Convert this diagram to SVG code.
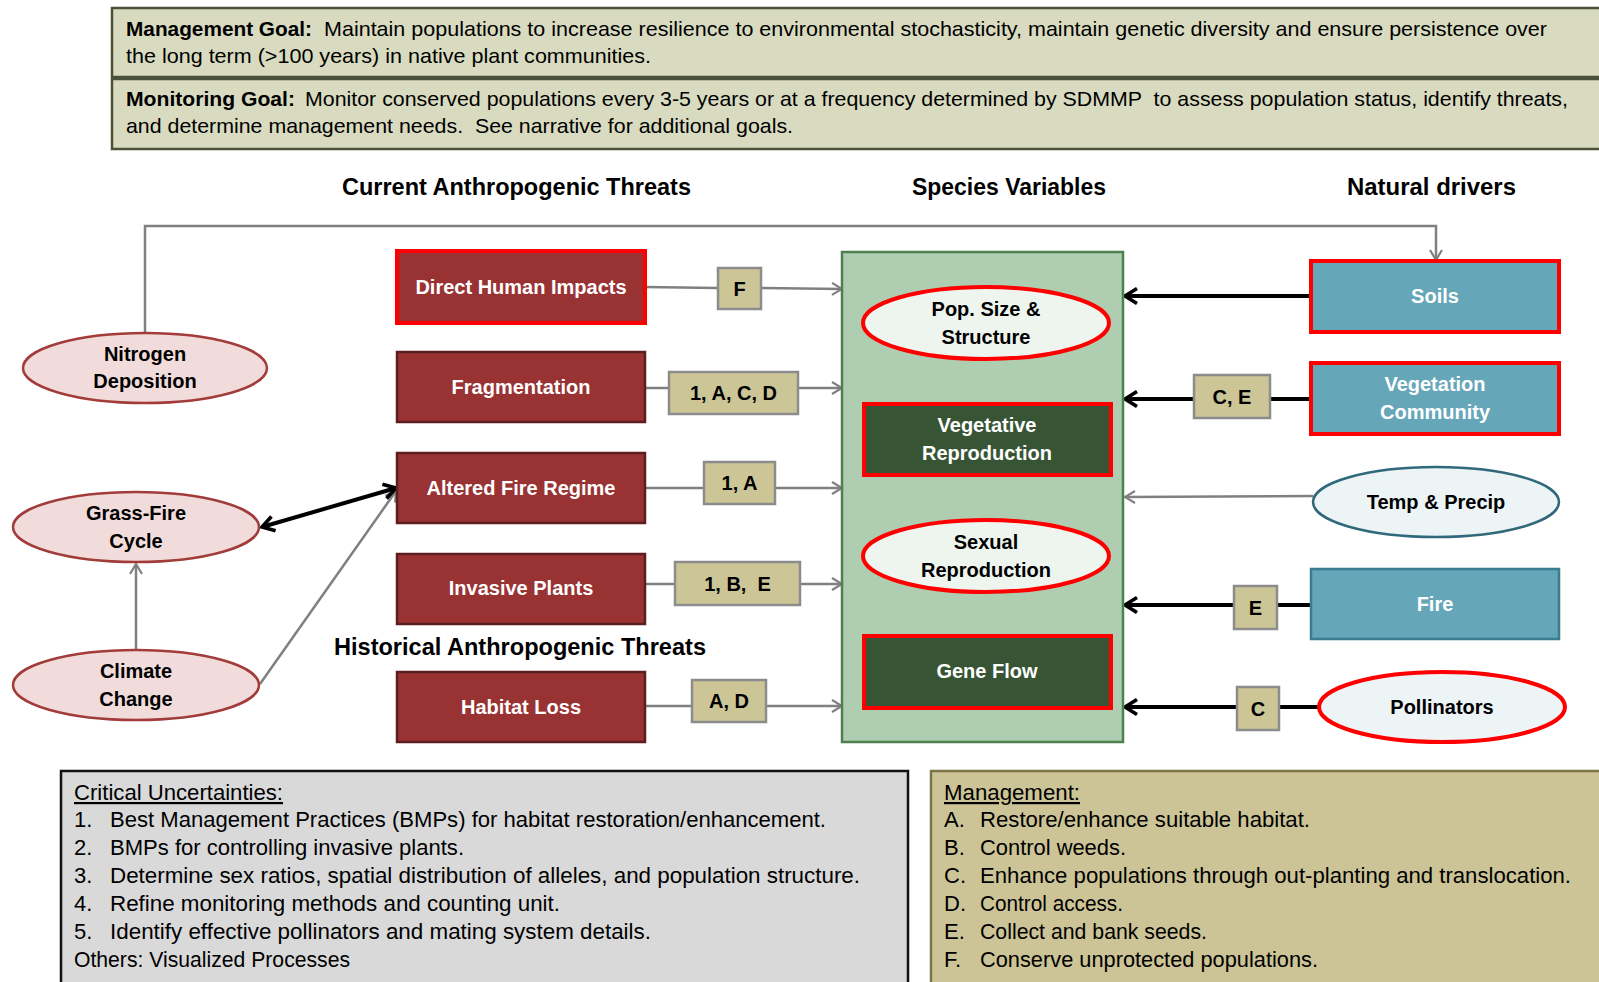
<svg xmlns="http://www.w3.org/2000/svg" width="1599" height="982" viewBox="0 0 1599 982">
  <style>
    text { font-family: "Liberation Sans", Arial, sans-serif; fill: #000; }
    .pre { white-space: pre; }
    .goalbox { fill: #d8dbbf; stroke: #4b5039; stroke-width: 2.5; }
    .head { font-size: 23px; font-weight: bold; }
    .body { font-size: 21px; }
    .list { font-size: 22px; }
    .lbl { font-size: 20px; font-weight: bold; text-anchor: middle; }
    .wlbl { font-size: 20px; font-weight: bold; text-anchor: middle; fill: #fff; }
    .threat { fill: #993233; stroke: #5c1e1e; stroke-width: 2.5; }
    .pink { fill: #f2dcdb; stroke: #a23c3a; stroke-width: 2.5; }
    .tag { fill: #ccc596; stroke: #8c8c8c; stroke-width: 2.5; }
    .species { fill: #eef5ef; stroke: #ff0000; stroke-width: 4; }
    .dkgreen { fill: #375535; stroke: #ff0000; stroke-width: 4; }
    .blue { fill: #65a6b9; stroke: #3b7d90; stroke-width: 2.5; }
    .lightblue { fill: #edf4f6; stroke: #31697c; stroke-width: 2.5; }
    .redline { stroke: #ff0000; stroke-width: 4; }
    .thin { fill: none; stroke: #808080; stroke-width: 2.5; }
    .thick { fill: none; stroke: #000; stroke-width: 4; }
  </style>
  <defs>
    <marker id="openGray" viewBox="0 0 14 14" refX="12" refY="7" markerWidth="14" markerHeight="14" markerUnits="userSpaceOnUse" orient="auto-start-reverse">
      <path d="M2,1 L12,7 L2,13" fill="none" stroke="#808080" stroke-width="2.2"/>
    </marker>
    <marker id="openBlack" viewBox="0 0 18 18" refX="15" refY="9" markerWidth="18" markerHeight="18" markerUnits="userSpaceOnUse" orient="auto-start-reverse">
      <path d="M3,1.5 L15,9 L3,16.5" fill="none" stroke="#000" stroke-width="3.6"/>
    </marker>
  </defs>

  <!-- goal statements -->
  <g id="management-goal">
    <rect class="goalbox" x="112" y="8" width="1500" height="69"/>
    <text class="body" x="126" y="36" font-weight="bold" textLength="186" lengthAdjust="spacingAndGlyphs">Management Goal:</text>
    <text class="body" x="324" y="36" textLength="1223" lengthAdjust="spacingAndGlyphs">Maintain populations to increase resilience to environmental stochasticity, maintain genetic diversity and ensure persistence over</text>
    <text class="body" x="126" y="63" textLength="525" lengthAdjust="spacingAndGlyphs">the long term (&gt;100 years) in native plant communities.</text>
  </g>
  <g id="monitoring-goal">
    <rect class="goalbox" x="112" y="79" width="1500" height="70"/>
    <text class="body" x="126" y="106" font-weight="bold" textLength="169" lengthAdjust="spacingAndGlyphs">Monitoring Goal:</text>
    <text class="body pre" x="305" y="106" textLength="1263" lengthAdjust="spacingAndGlyphs">Monitor conserved populations every 3-5 years or at a frequency determined by SDMMP  to assess population status, identify threats,</text>
    <text class="body pre" x="126" y="133" textLength="667" lengthAdjust="spacingAndGlyphs">and determine management needs.  See narrative for additional goals.</text>
  </g>

  <!-- column headings -->
  <g id="headings">
    <text class="head" x="342" y="195" textLength="349" lengthAdjust="spacingAndGlyphs">Current Anthropogenic Threats</text>
    <text class="head" x="912" y="195" textLength="194" lengthAdjust="spacingAndGlyphs">Species Variables</text>
    <text class="head" x="1347" y="195" textLength="169" lengthAdjust="spacingAndGlyphs">Natural drivers</text>
    <text class="head" x="334" y="655" textLength="372" lengthAdjust="spacingAndGlyphs">Historical Anthropogenic Threats</text>
  </g>

  <!-- connectors -->
  <g id="connectors">
    <path class="thin" d="M145,333 V226 H1436 V260" marker-end="url(#openGray)"/>
    <path class="thin" d="M645,287 L718,288 M761,288 L842,289" marker-end="url(#openGray)"/>
    <path class="thin" d="M645,388 L842,388" marker-end="url(#openGray)"/>
    <path class="thin" d="M645,488 L842,488" marker-end="url(#openGray)"/>
    <path class="thin" d="M645,584 L842,584" marker-end="url(#openGray)"/>
    <path class="thin" d="M645,706 L842,706" marker-end="url(#openGray)"/>
    <path class="thin" d="M136,650 L136,564" marker-end="url(#openGray)"/>
    <path class="thin" d="M260,684 L396,491" marker-end="url(#openGray)"/>
    <path class="thick" d="M262,527 L396,488" marker-start="url(#openBlack)" marker-end="url(#openBlack)"/>
    <path class="thick" d="M1311,296 L1125,296" marker-end="url(#openBlack)"/>
    <path class="thick" d="M1311,399 L1125,399" marker-end="url(#openBlack)"/>
    <path class="thin" d="M1313,496 L1125,497" marker-end="url(#openGray)"/>
    <path class="thick" d="M1311,605 L1125,605" marker-end="url(#openBlack)"/>
    <path class="thick" d="M1319,707 L1125,707" marker-end="url(#openBlack)"/>
  </g>

  <!-- external drivers on the left -->
  <g id="nitrogen-deposition">
    <ellipse class="pink" cx="145" cy="368" rx="122" ry="35"/>
    <text class="lbl" x="145" y="361">Nitrogen</text>
    <text class="lbl" x="145" y="388">Deposition</text>
  </g>
  <g id="grass-fire-cycle">
    <ellipse class="pink" cx="136" cy="527" rx="123" ry="35"/>
    <text class="lbl" x="136" y="520">Grass-Fire</text>
    <text class="lbl" x="136" y="548">Cycle</text>
  </g>
  <g id="climate-change">
    <ellipse class="pink" cx="136" cy="685" rx="123" ry="35"/>
    <text class="lbl" x="136" y="678">Climate</text>
    <text class="lbl" x="136" y="706">Change</text>
  </g>

  <!-- anthropogenic threats -->
  <g id="direct-human-impacts">
    <rect class="threat redline" x="397" y="251" width="248" height="72"/>
    <text class="wlbl" x="521" y="294">Direct Human Impacts</text>
  </g>
  <g id="fragmentation">
    <rect class="threat" x="397" y="352" width="248" height="70"/>
    <text class="wlbl" x="521" y="394">Fragmentation</text>
  </g>
  <g id="altered-fire-regime">
    <rect class="threat" x="397" y="453" width="248" height="70"/>
    <text class="wlbl" x="521" y="495">Altered Fire Regime</text>
  </g>
  <g id="invasive-plants">
    <rect class="threat" x="397" y="554" width="248" height="70"/>
    <text class="wlbl" x="521" y="595">Invasive Plants</text>
  </g>
  <g id="habitat-loss">
    <rect class="threat" x="397" y="672" width="248" height="70"/>
    <text class="wlbl" x="521" y="714">Habitat Loss</text>
  </g>

  <!-- action tags on connectors -->
  <g id="tag-f">
    <rect class="tag" x="718" y="268" width="43" height="41"/>
    <text class="lbl" x="739.5" y="296">F</text>
  </g>
  <g id="tag-1acd">
    <rect class="tag" x="669" y="372" width="129" height="42"/>
    <text class="lbl" x="733.5" y="400">1, A, C, D</text>
  </g>
  <g id="tag-1a">
    <rect class="tag" x="704" y="462" width="71" height="42"/>
    <text class="lbl" x="739.5" y="490">1, A</text>
  </g>
  <g id="tag-1be">
    <rect class="tag" x="675" y="562" width="125" height="43"/>
    <text class="lbl pre" x="737.5" y="591">1, B,  E</text>
  </g>
  <g id="tag-ad">
    <rect class="tag" x="692" y="680" width="74" height="42"/>
    <text class="lbl" x="729" y="708">A, D</text>
  </g>
  <g id="tag-ce">
    <rect class="tag" x="1194" y="375" width="76" height="43"/>
    <text class="lbl" x="1232" y="404">C, E</text>
  </g>
  <g id="tag-e">
    <rect class="tag" x="1234" y="586" width="43" height="43"/>
    <text class="lbl" x="1255.5" y="615">E</text>
  </g>
  <g id="tag-c">
    <rect class="tag" x="1237" y="687" width="42" height="43"/>
    <text class="lbl" x="1258" y="716">C</text>
  </g>

  <!-- species variables -->
  <g id="species-variables">
    <rect x="842" y="252" width="281" height="490" fill="#afcdb0" stroke="#4f8150" stroke-width="2.5"/>
  </g>
  <g id="pop-size-structure">
    <ellipse class="species" cx="986" cy="323" rx="123" ry="36"/>
    <text class="lbl" x="986" y="316">Pop. Size &amp;</text>
    <text class="lbl" x="986" y="344">Structure</text>
  </g>
  <g id="vegetative-reproduction">
    <rect class="dkgreen" x="864" y="404" width="247" height="71"/>
    <text class="wlbl" x="987" y="432">Vegetative</text>
    <text class="wlbl" x="987" y="460">Reproduction</text>
  </g>
  <g id="sexual-reproduction">
    <ellipse class="species" cx="986" cy="556" rx="123" ry="36"/>
    <text class="lbl" x="986" y="549">Sexual</text>
    <text class="lbl" x="986" y="577">Reproduction</text>
  </g>
  <g id="gene-flow">
    <rect class="dkgreen" x="864" y="636" width="247" height="72"/>
    <text class="wlbl" x="987" y="678">Gene Flow</text>
  </g>

  <!-- natural drivers -->
  <g id="soils">
    <rect class="blue redline" x="1311" y="261" width="248" height="71"/>
    <text class="wlbl" x="1435" y="303">Soils</text>
  </g>
  <g id="vegetation-community">
    <rect class="blue redline" x="1311" y="363" width="248" height="71"/>
    <text class="wlbl" x="1435" y="391">Vegetation</text>
    <text class="wlbl" x="1435" y="419">Community</text>
  </g>
  <g id="temp-precip">
    <ellipse class="lightblue" cx="1436" cy="502" rx="123" ry="35"/>
    <text class="lbl" x="1436" y="509">Temp &amp; Precip</text>
  </g>
  <g id="fire">
    <rect class="blue" x="1311" y="569" width="248" height="70"/>
    <text class="wlbl" x="1435" y="611">Fire</text>
  </g>
  <g id="pollinators">
    <ellipse class="lightblue redline" cx="1442" cy="707" rx="123" ry="35"/>
    <text class="lbl" x="1442" y="714">Pollinators</text>
  </g>

  <!-- critical uncertainties panel -->
  <g id="critical-uncertainties">
    <rect x="61" y="771" width="847" height="220" fill="#d9d9d9" stroke="#111" stroke-width="2.5"/>
    <text class="list" x="74" y="800" text-decoration="underline" textLength="209" lengthAdjust="spacingAndGlyphs">Critical Uncertainties:</text>
    <text class="list" x="74" y="827">1.</text>
    <text class="list" x="110" y="827" textLength="716" lengthAdjust="spacingAndGlyphs">Best Management Practices (BMPs) for habitat restoration/enhancement.</text>
    <text class="list" x="74" y="855">2.</text>
    <text class="list" x="110" y="855" textLength="354" lengthAdjust="spacingAndGlyphs">BMPs for controlling invasive plants.</text>
    <text class="list" x="74" y="883">3.</text>
    <text class="list" x="110" y="883" textLength="750" lengthAdjust="spacingAndGlyphs">Determine sex ratios, spatial distribution of alleles, and population structure.</text>
    <text class="list" x="74" y="911">4.</text>
    <text class="list" x="110" y="911" textLength="450" lengthAdjust="spacingAndGlyphs">Refine monitoring methods and counting unit.</text>
    <text class="list" x="74" y="939">5.</text>
    <text class="list" x="110" y="939" textLength="541" lengthAdjust="spacingAndGlyphs">Identify effective pollinators and mating system details.</text>
    <text class="list" x="74" y="967" textLength="276" lengthAdjust="spacingAndGlyphs">Others: Visualized Processes</text>
  </g>

  <!-- management actions panel -->
  <g id="management-actions">
    <rect x="931" y="771" width="700" height="220" fill="#ccc496" stroke="#7a7446" stroke-width="2.5"/>
    <text class="list" x="944" y="800" text-decoration="underline" textLength="136" lengthAdjust="spacingAndGlyphs">Management:</text>
    <text class="list" x="944" y="827">A.</text>
    <text class="list" x="980" y="827" textLength="330" lengthAdjust="spacingAndGlyphs">Restore/enhance suitable habitat.</text>
    <text class="list" x="944" y="855">B.</text>
    <text class="list" x="980" y="855" textLength="146" lengthAdjust="spacingAndGlyphs">Control weeds.</text>
    <text class="list" x="944" y="883">C.</text>
    <text class="list" x="980" y="883" textLength="591" lengthAdjust="spacingAndGlyphs">Enhance populations through out-planting and translocation.</text>
    <text class="list" x="944" y="911">D.</text>
    <text class="list" x="980" y="911" textLength="143" lengthAdjust="spacingAndGlyphs">Control access.</text>
    <text class="list" x="944" y="939">E.</text>
    <text class="list" x="980" y="939" textLength="227" lengthAdjust="spacingAndGlyphs">Collect and bank seeds.</text>
    <text class="list" x="944" y="967">F.</text>
    <text class="list" x="980" y="967" textLength="338" lengthAdjust="spacingAndGlyphs">Conserve unprotected populations.</text>
  </g>
</svg>
